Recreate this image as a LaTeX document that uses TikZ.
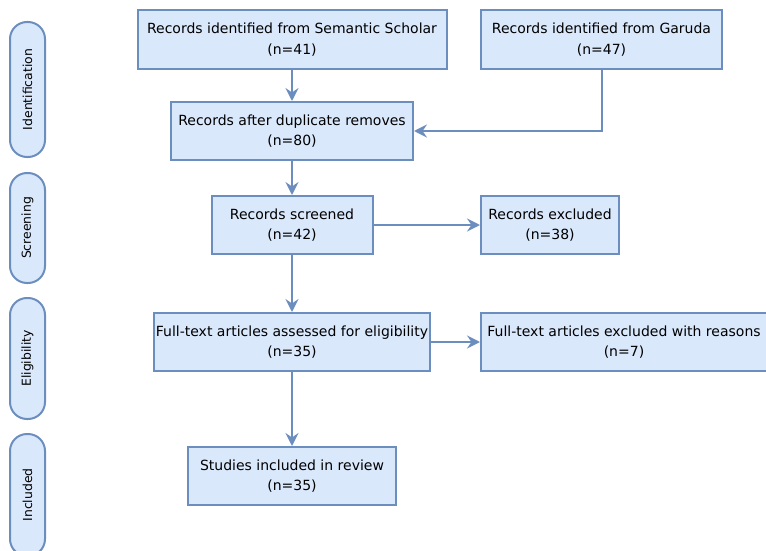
\documentclass[tikz,border=0pt]{standalone}
\usepackage{fontspec}
\setmainfont{DejaVu Sans}
\usepackage{xcolor}
\usepackage{tikz}
\usetikzlibrary{positioning, arrows.meta}
\definecolor{prBlue}{HTML}{DAE8FC}
\definecolor{prEdge}{HTML}{6C8EBF}
\tikzset{
  stage/.style={
    rectangle,
    draw=prEdge, line width=2pt,
    fill=prBlue,
    inner sep=2pt,
    minimum height=58pt,
    align=center,
    font=\fontsize{14}{20.5}\selectfont
  },
  phase/.style={
    rectangle, rounded corners=17pt,
    draw=prEdge, line width=2pt,
    fill=prBlue,
    inner sep=2pt,
    minimum height=35pt,
    rotate=90,
    font=\fontsize{12.4}{14}\selectfont
  },
  flow/.style={
    -{Stealth[length=13pt, width=13pt, inset=4.5pt]},
    prEdge, line width=2pt
  }
}

\begin{document}
\begin{tikzpicture}[x=1pt, y=-1pt]
      \useasboundingbox (0,0) rectangle (766,551);
      \clip (0,0) rectangle (766,551);
      % Phase labels on the left
      \node[phase, minimum width=135pt] (ident) at (27.5, 89.5) {Identification};
      \node[phase, minimum width=110pt] (screen) at (27.5, 228) {Screening};
      \node[phase, minimum width=121pt] (elig) at (27.5, 358.5) {Eligibility};
      \node[phase, minimum width=122pt] (incl) at (27.5, 495) {Included};
      % Identification
      \node[stage, minimum width=309pt, minimum height=59pt] (semantic) at (292, 39.5) {Records identified from Semantic Scholar\\(n=41)};
      \node[stage, minimum width=241pt, minimum height=59pt] (garuda) at (601.5, 39.5) {Records identified from Garuda\\(n=47)};
      \node[stage, minimum width=242pt] (dup) at (292, 131) {Records after duplicate removes\\(n=80)};
      % Screening
      \node[stage, minimum width=161pt] (screened) at (292, 225) {Records screened\\(n=42)};
      \node[stage, minimum width=138pt] (excl) at (550, 225) {Records excluded\\(n=38)};
      % Eligibility
      \node[stage, minimum width=276pt] (assessed) at (292, 342) {Full-text articles assessed for eligibility\\(n=35)};
      \node[stage, minimum width=286pt] (ftexcl) at (624, 342) {Full-text articles excluded with reasons\\(n=7)};
      % Included
      \node[stage, minimum width=208pt] (studies) at (292, 476) {Studies included in review\\(n=35)};
      % Arrows
      \draw[flow] (semantic) -- (dup);
      \draw[flow] (garuda.south) |- (dup.east);
      \draw[flow] (dup) -- (screened);
      \draw[flow] (screened) -- (excl);
      \draw[flow] (screened) -- (assessed);
      \draw[flow] (assessed) -- (ftexcl);
      \draw[flow] (assessed) -- (studies);
    \end{tikzpicture}
\end{document}
